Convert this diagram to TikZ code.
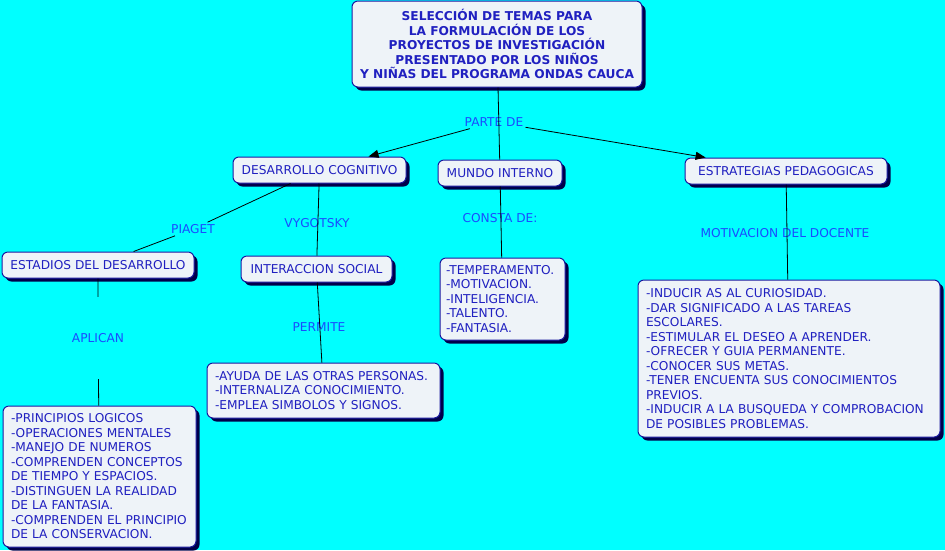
\documentclass[tikz,border=0pt]{standalone}
\usepackage{fontspec}
\setmainfont{DejaVu Sans}
\usepackage{tikz}
\usetikzlibrary{arrows, arrows.meta, shapes, shadows}
\definecolor{mapbg}{HTML}{00FFFF}
\definecolor{boxfill}{HTML}{EEF3F8}
\definecolor{boxline}{HTML}{1A1AA0}
\definecolor{boxtext}{HTML}{2020C0}
\definecolor{linktext}{HTML}{1A4CFF}
\definecolor{boxshadow}{HTML}{00004A}
\tikzstyle{concept} = [rectangle, rounded corners=6pt, draw=boxline, line width=1pt, fill=boxfill, text=boxtext,
                      font=\fontsize{12.2}{14.5}\selectfont, inner sep=0pt,
                      drop shadow={shadow xshift=3.5pt, shadow yshift=-3.5pt, fill=boxshadow, opacity=1}]
\tikzstyle{listbox} = [concept, align=left, inner xsep=8pt, inner ysep=0pt]
\tikzstyle{link} = [text=linktext, font=\fontsize{12.2}{14.5}\selectfont, inner sep=2pt]
\tikzstyle{connector} = [draw=black, line width=0.8pt]
\tikzstyle{pointer} = [connector, -{Triangle[length=10pt, width=8pt]}]

\begin{document}
\begin{tikzpicture}[x=1pt, y=-1pt]
				\useasboundingbox (0, 0) rectangle (945, 550);
				\fill[mapbg] (0, 0) rectangle (945, 550);

				\node (Title) [concept, align=center, minimum width=290pt, minimum height=86pt,
					font=\fontsize{12.2}{14.5}\selectfont\bfseries] at (497, 44)
					{SELECCIÓN DE TEMAS PARA\\LA FORMULACIÓN DE LOS\\PROYECTOS DE INVESTIGACIÓN\\PRESENTADO POR LOS NIÑOS\\Y NIÑAS DEL PROGRAMA ONDAS CAUCA};

				\node (ParteDe) [link] at (494, 122) {PARTE DE};

				\node (Desarrollo) [concept, minimum width=173pt, minimum height=26pt] at (319.5, 170) {DESARROLLO COGNITIVO};
				\node (Mundo) [concept, minimum width=124pt, minimum height=26pt] at (500, 173) {MUNDO INTERNO};
				\node (Estrategias) [concept, minimum width=202pt, minimum height=26pt] at (786, 171) {ESTRATEGIAS PEDAGOGICAS};

				\draw[connector] (Title) -- (Mundo);
				\draw[pointer] (ParteDe) -- (Desarrollo);
				\draw[pointer] (ParteDe) -- (Estrategias);

				\node (Piaget) [link] at (193, 229) {PIAGET};
				\node (Vygotsky) [link] at (317, 223) {VYGOTSKY};
				\node (Estadios) [concept, minimum width=192pt, minimum height=26pt] at (98, 265) {ESTADIOS DEL DESARROLLO};
				\node (Interaccion) [concept, minimum width=151pt, minimum height=26pt] at (316.5, 269) {INTERACCION SOCIAL};
				\draw[connector] (Desarrollo) -- (Piaget) -- (Estadios);
				\draw[connector] (Desarrollo) -- (Interaccion);

				\node (Aplican) [link, minimum height=82pt] at (98, 338) {APLICAN};
				\node (Principios) [listbox, text width=177pt, minimum height=141pt] at (99.5, 476.5)
					{-PRINCIPIOS LOGICOS\\-OPERACIONES MENTALES\\-MANEJO DE NUMEROS\\-COMPRENDEN CONCEPTOS\\DE TIEMPO Y ESPACIOS.\\-DISTINGUEN LA REALIDAD\\DE LA FANTASIA.\\-COMPRENDEN EL PRINCIPIO\\DE LA CONSERVACION.};
				\draw[connector] (Estadios) -- (Aplican) -- (Principios);

				\node (Permite) [link] at (319, 327) {PERMITE};
				\node (Ayuda) [listbox, text width=217pt, minimum height=55pt] at (323.5, 390.5)
					{-AYUDA DE LAS OTRAS PERSONAS.\\-INTERNALIZA CONOCIMIENTO.\\-EMPLEA SIMBOLOS Y SIGNOS.};
				\draw[connector] (Interaccion) -- (Ayuda);

				\node (Consta) [link] at (500, 218) {CONSTA DE:};
				\node (Rasgos) [listbox, inner xsep=6pt, text width=113pt, minimum height=82pt] at (502.5, 299)
					{-TEMPERAMENTO.\\-MOTIVACION.\\-INTELIGENCIA.\\-TALENTO.\\-FANTASIA.};
				\draw[connector] (Mundo) -- (Rasgos);

				\node (Motivacion) [link] at (785, 233) {MOTIVACION DEL DOCENTE};
				\node (Acciones) [listbox, text width=286pt, minimum height=157pt] at (789, 358.5)
					{-INDUCIR AS AL CURIOSIDAD.\\-DAR SIGNIFICADO A LAS TAREAS\\ESCOLARES.\\-ESTIMULAR EL DESEO A APRENDER.\\-OFRECER Y GUIA PERMANENTE.\\-CONOCER SUS METAS.\\-TENER ENCUENTA SUS CONOCIMIENTOS\\PREVIOS.\\-INDUCIR A LA BUSQUEDA Y COMPROBACION\\DE POSIBLES PROBLEMAS.};
				\draw[connector] (Estrategias) -- (Acciones);
\end{tikzpicture}
\end{document}
